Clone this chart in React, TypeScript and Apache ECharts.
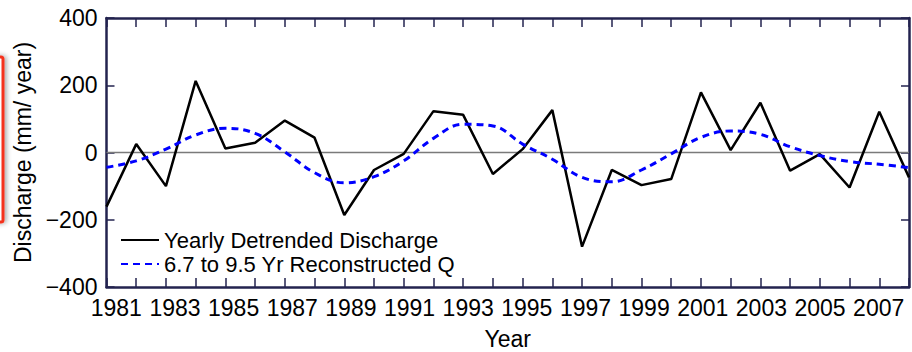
import React, { useEffect, useRef } from "react";
import * as echarts from "echarts";

const years: number[] = [
  1981, 1982, 1983, 1984, 1985, 1986, 1987, 1988, 1989, 1990, 1991, 1992, 1993, 1994,
  1995, 1996, 1997, 1998, 1999, 2000, 2001, 2002, 2003, 2004, 2005, 2006, 2007, 2008,
];
const yearlyDetrended: number[] = [
  -161, 25, -100, 213, 12, 29, 95, 44, -186, -52, -4, 123, 112, -64,
  10, 126, -280, -52, -97, -79, 179, 7, 148, -54, -5, -104, 121, -74,
];
const reconstructedQ: number[] = [
  -44, -25, 10, 52, 72, 57, 2, -60, -90, -72, -25, 42, 84, 79,
  25, -20, -74, -87, -52, -4, 45, 64, 54, 17, -9, -27, -35, -45,
];
const yearLabels: string[] = [
  "1981", "1983", "1985", "1987", "1989", "1991", "1993",
  "1995", "1997", "1999", "2001", "2003", "2005", "2007",
];
const seriesNames: string[] = ["Yearly Detrended Discharge", "6.7 to 9.5 Yr Reconstructed Q"];

const FONT = "'Liberation Sans', Arial, sans-serif";
const FRAME = "#23234f";

export default function App() {
  const ref = useRef<HTMLDivElement>(null);
  useEffect(() => {
    if (!ref.current) return;
    const chart = echarts.init(ref.current, undefined, { renderer: "svg" });
    const line = () => ({ show: true, onZero: false, lineStyle: { color: FRAME, width: 2.5 } });
    const tick = (len: number) => ({ show: true, inside: true, length: len, lineStyle: { color: FRAME, width: 1.5 } });
    chart.setOption({
      animation: false,
      backgroundColor: "#fff",
      textStyle: { fontFamily: FONT },
      graphic: [
        {
          type: "rect",
          shape: { x: -60, y: 57, width: 63, height: 165, r: 2 },
          style: { fill: "#fff", stroke: "#f4321e", lineWidth: 3, shadowBlur: 5, shadowOffsetX: 2, shadowColor: "rgba(0,0,0,0.35)" },
          z: 10,
        },
      ],
      legend: {
        orient: "vertical",
        left: 120,
        top: 229,
        padding: 0,
        itemWidth: 38,
        itemHeight: 14,
        itemGap: 2,
        itemStyle: { opacity: 0, borderWidth: 0 },
        textStyle: { fontSize: 22, color: "#000", fontFamily: FONT },
        data: seriesNames,
      },
      grid: [
        { left: 106.5, right: 3, top: 18, bottom: 65, outerBoundsMode: "none", containLabel: false },
        { left: 87, right: 4, top: 18, bottom: 65, outerBoundsMode: "none", containLabel: false },
      ],
      xAxis: [
        {
          type: "value", gridIndex: 0, min: 1981, max: 2008, interval: 1, position: "bottom",
          axisLine: line(), axisTick: tick(9), axisLabel: { show: false }, splitLine: { show: false },
          name: "Year", nameLocation: "middle", nameGap: 40,
          nameTextStyle: { fontSize: 23, color: "#000", fontFamily: FONT },
        },
        {
          type: "value", gridIndex: 0, min: 1981, max: 2008, interval: 1, position: "top",
          axisLine: line(), axisTick: tick(9), axisLabel: { show: false }, splitLine: { show: false },
        },
        {
          type: "category", gridIndex: 1, data: yearLabels, boundaryGap: true, position: "bottom",
          axisLine: { show: false, onZero: false }, axisTick: { show: false },
          axisLabel: { show: true, interval: 0, margin: 9, fontSize: 23, color: "#000", fontFamily: FONT },
          splitLine: { show: false },
        },
      ],
      yAxis: [
        {
          type: "value", gridIndex: 0, min: -400, max: 400, interval: 200, position: "left",
          axisLine: line(), axisTick: tick(8),
          axisLabel: {
            margin: 9, fontSize: 23, color: "#000", fontFamily: FONT,
            formatter: (v: number) => (v < 0 ? "\u2212" + Math.abs(v) : String(v)),
          },
          splitLine: { show: false },
          name: "Discharge (mm/ year)", nameLocation: "middle", nameGap: 66,
          nameTextStyle: { fontSize: 23, color: "#000", fontFamily: FONT },
        },
        {
          type: "value", gridIndex: 0, min: -400, max: 400, interval: 200, position: "right",
          axisLine: line(), axisTick: tick(8), axisLabel: { show: false }, splitLine: { show: false },
        },
        { type: "value", gridIndex: 1, show: false },
      ],
      series: [
        {
          name: seriesNames[0], type: "line", xAxisIndex: 0, yAxisIndex: 0,
          data: years.map((y, i) => [y, yearlyDetrended[i]]),
          symbol: "none", lineStyle: { color: "#000", width: 2.5 }, itemStyle: { color: "#000" }, z: 3,
          markLine: {
            silent: true, symbol: "none", label: { show: false },
            lineStyle: { color: "#7a7a7a", width: 1.3, type: "solid" }, data: [{ yAxis: 0 }], z: 1,
          },
        },
        {
          name: seriesNames[1], type: "line", xAxisIndex: 0, yAxisIndex: 0,
          data: years.map((y, i) => [y, reconstructedQ[i]]),
          symbol: "none", smooth: 0.4,
          lineStyle: { color: "#0000ff", width: 3, type: [7, 5] }, itemStyle: { color: "#0000ff" }, z: 4,
        },
      ],
    });
    return () => chart.dispose();
  }, []);
  return (
    <div
      ref={ref}
      style={{ position: "absolute", left: 0, top: 0, width: 912, height: 352, background: "#fff" }}
    />
  );
}
